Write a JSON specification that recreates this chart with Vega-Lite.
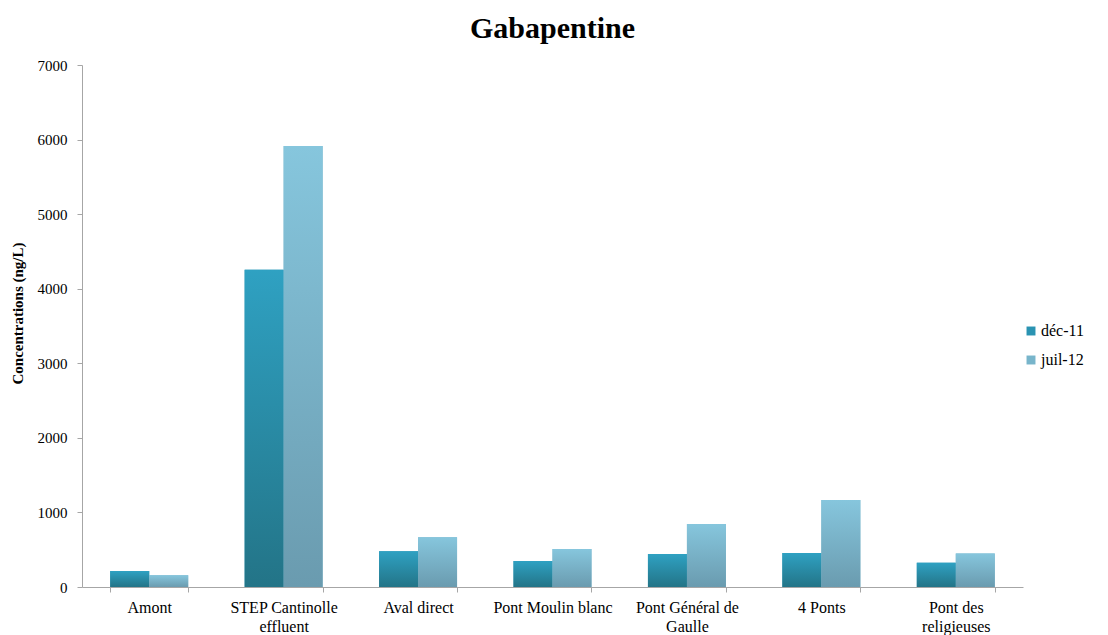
{
  "$schema": "https://vega.github.io/schema/vega-lite/v6.json",
  "autosize": "none",
  "width": 941,
  "height": 522,
  "padding": {"left": 82, "top": 65, "right": 85, "bottom": 48},
  "background": "white",
  "config": {"view": {"stroke": null}, "font": "Times New Roman, Liberation Serif, serif"},
  "title": {"text": "Gabapentine", "font": "Times New Roman, Liberation Serif, serif", "fontSize": 30, "fontWeight": "bold", "color": "#000000", "anchor": "middle", "offset": 14},
  "data": {"values": [
    {"site": "Amont", "campagne": "déc-11", "conc": 213},
    {"site": "Amont", "campagne": "juil-12", "conc": 158},
    {"site": "STEP Cantinolle effluent", "campagne": "déc-11", "conc": 4255},
    {"site": "STEP Cantinolle effluent", "campagne": "juil-12", "conc": 5915},
    {"site": "Aval direct", "campagne": "déc-11", "conc": 478},
    {"site": "Aval direct", "campagne": "juil-12", "conc": 668},
    {"site": "Pont Moulin blanc", "campagne": "déc-11", "conc": 348},
    {"site": "Pont Moulin blanc", "campagne": "juil-12", "conc": 508},
    {"site": "Pont Général de Gaulle", "campagne": "déc-11", "conc": 443},
    {"site": "Pont Général de Gaulle", "campagne": "juil-12", "conc": 845},
    {"site": "4 Ponts", "campagne": "déc-11", "conc": 456},
    {"site": "4 Ponts", "campagne": "juil-12", "conc": 1167},
    {"site": "Pont des religieuses", "campagne": "déc-11", "conc": 325},
    {"site": "Pont des religieuses", "campagne": "juil-12", "conc": 450}
  ]},
  "encoding": {
    "x": {"field": "site", "type": "nominal", "sort": null,
      "scale": {"paddingInner": 0.42, "paddingOuter": 0.21},
      "axis": {"title": null, "labelAngle": 0, "labelFont": "Times New Roman, Liberation Serif, serif", "labelFontSize": 16, "labelColor": "#000000",
        "labelPadding": 7, "labelLineHeight": 19, "tickBand": "extent", "tickColor": "#a6a6a6", "tickSize": 5, "domainColor": "#a6a6a6",
        "labelExpr": "datum.label == 'STEP Cantinolle effluent' ? ['STEP Cantinolle','effluent'] : datum.label == 'Pont Général de Gaulle' ? ['Pont Général de','Gaulle'] : datum.label == 'Pont des religieuses' ? ['Pont des','religieuses'] : datum.label"}},
    "xOffset": {"field": "campagne", "type": "nominal", "scale": {"paddingInner": 0, "paddingOuter": 0}},
    "y": {"field": "conc", "type": "quantitative",
      "scale": {"domain": [0, 7000], "nice": false},
      "axis": {"title": "Concentrations (ng/L)", "titleFont": "Times New Roman, Liberation Serif, serif", "titleFontSize": 15, "titleFontWeight": "bold", "titleColor": "#000000", "titlePadding": 12, "titleY": 248,
        "values": [0, 1000, 2000, 3000, 4000, 5000, 6000, 7000], "format": "d", "labelFont": "Times New Roman, Liberation Serif, serif", "labelFontSize": 15, "labelColor": "#000000",
        "grid": false, "tickColor": "#a6a6a6", "tickSize": 5, "domainColor": "#a6a6a6", "labelPadding": 10}}
  },
  "layer": [
    {
      "mark": {"type": "bar"},
      "encoding": {
        "color": {"field": "campagne", "type": "nominal",
          "scale": {"domain": ["déc-11", "juil-12"], "range": ["#2A93B2", "#78B5CB"]},
          "legend": {"title": null, "orient": "none", "legendX": 941, "legendY": 258, "symbolType": "square", "symbolSize": 80,
            "labelFont": "Times New Roman, Liberation Serif, serif", "labelFontSize": 16, "labelColor": "#000000", "rowPadding": 13, "labelOffset": 2, "symbolStrokeWidth": 0}}
      }
    },
    {
      "transform": [{"filter": "datum.campagne == 'déc-11'"}],
      "mark": {"type": "bar", "color": {"gradient": "linear", "x1": 0, "y1": 0, "x2": 0, "y2": 1,
        "stops": [{"offset": 0, "color": "#2FA1C2"}, {"offset": 1, "color": "#237487"}]}},
      "encoding": {}
    },
    {
      "transform": [{"filter": "datum.campagne == 'juil-12'"}],
      "mark": {"type": "bar", "color": {"gradient": "linear", "x1": 0, "y1": 0, "x2": 0, "y2": 1,
        "stops": [{"offset": 0, "color": "#86C6DD"}, {"offset": 1, "color": "#6A9BAF"}]}},
      "encoding": {}
    }
  ]
}
